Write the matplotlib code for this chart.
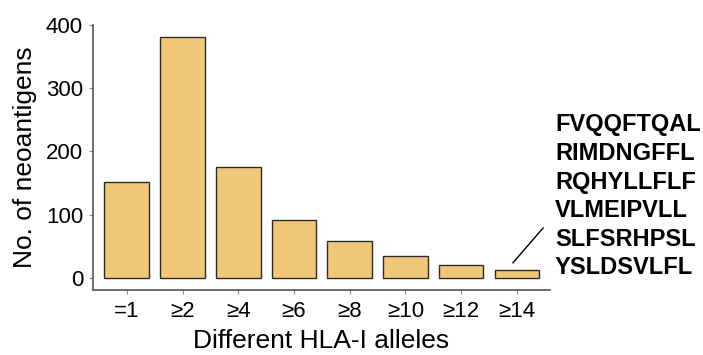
import numpy as np
import matplotlib
matplotlib.use("Agg")
import matplotlib.pyplot as plt

plt.rcParams["font.family"] = ["Liberation Sans", "DejaVu Sans"]

categories = ["=1", "≥2", "≥4", "≥6", "≥8", "≥10", "≥12", "≥14"]
counts = [152, 381, 176, 92, 58, 35, 21, 13]
peptides = ["FVQQFTQAL", "RIMDNGFFL", "RQHYLLFLF", "VLMEIPVLL", "SLFSRHPSL", "YSLDSVLFL"]

fig = plt.figure(figsize=(7.03, 3.55), dpi=100)
ax = fig.add_axes([0.132, 0.183, 0.65, 0.747])

x = np.arange(len(categories))
ax.bar(x, counts, width=0.8, color="#F0C677", edgecolor="#2b2b2b", linewidth=1.0)

ax.set_xlim(-0.61, 7.59)
ax.set_ylim(-19, 400)
ax.set_yticks([0, 100, 200, 300, 400])
ax.set_xticks(x)
ax.set_xticklabels(categories)
ax.tick_params(axis="both", labelsize=16, color="#888888", length=3, width=0.8)
ax.tick_params(axis="x", pad=5)
ax.tick_params(axis="y", pad=4)

for side in ["top", "right"]:
    ax.spines[side].set_visible(False)
for side in ["left", "bottom"]:
    ax.spines[side].set_color("#555555")
    ax.spines[side].set_linewidth(1.2)

ax.set_xlabel("Different HLA-I alleles", fontsize=19, labelpad=5)
ax.set_ylabel("No. of neoantigens", fontsize=19, labelpad=6)

# pointer from the last bar to the peptide list
ax.plot([6.93, 7.47], [24, 79], color="black", linewidth=1.0, clip_on=False)

y0 = 1 - 125 / 355
for i, p in enumerate(peptides):
    fig.text(555 / 703, y0 - i * 28.6 / 355, p, fontsize=17, fontweight="bold",
             va="center", ha="left")

fig.savefig("out.png", dpi=100)
